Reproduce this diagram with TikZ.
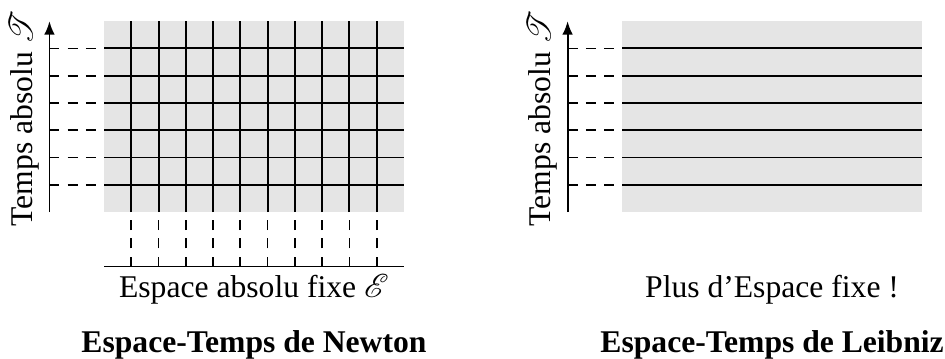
\documentclass[tikz,border=0pt]{standalone}
\usepackage{fontspec}
\setmainfont{Liberation Serif}
\usepackage{mathrsfs}
\usetikzlibrary{arrows.meta}

\tikzset{
	txt/.style={font=\fontsize{16.5}{20}\selectfont},
	title/.style={font=\fontsize{16.5}{20}\selectfont\bfseries},
	gridline/.style={line width=1pt},
	tickline/.style={line width=0.9pt, dash pattern=on 5.2pt off 4.3pt},
	axis/.style={line width=1pt, -{Latex[length=7pt,width=5.5pt]}},
	zone/.style={fill=gray!20, draw=none},
}

\begin{document}
\begin{tikzpicture}[x=0.5cm,y=0.5cm]
	\useasboundingbox (-3.814,-5.354) rectangle (30.84,7.774);

	% Newton
	\fill[zone] (0,0) rectangle (11,7);
	\foreach \y in {1,...,6} {
		\draw[gridline] (0,\y) -- (11,\y);
		\draw[tickline] (-2,\y) -- (0,\y);
	}
	\foreach \x in {1,...,10} {
		\draw[gridline] (\x,0) -- (\x,7);
		\draw[tickline] (\x,-2) -- (\x,0);
	}
	\coordinate (E0) at (0,-2);
	\coordinate (E1) at (11,-2);
	\draw[gridline] (E0) -- (E1);

	\coordinate (T0) at (-2,0);
	\coordinate (T1) at (-2,7);
	\draw[axis] (T0) -- (T1);

	\node[txt, rotate=90, anchor=base west, inner sep=0pt] (tN) at (-2.63,-0.54) {Temps absolu $\mathscr{T}$};
	\node[txt, anchor=base] (eN) at (5.5,-3.14) {Espace absolu fixe $\mathscr{E}$};
	\node[title, anchor=base] (N) at (5.5,-5.16) {Espace-Temps de Newton};

	% Leibniz
	\fill[zone] (19,0) rectangle (30,7);
	\foreach \y in {1,...,6} {
		\draw[gridline] (19,\y) -- (30,\y);
		\draw[tickline] (17,\y) -- (19,\y);
	}

	\coordinate (S0) at (17,0);
	\coordinate (S1) at (17,7);
	\draw[axis] (S0) -- (S1);

	\node[txt, rotate=90, anchor=base west, inner sep=0pt] (tL) at (16.37,-0.54) {Temps absolu $\mathscr{T}$};
	\node[txt, anchor=base] (eL) at (24.5,-3.14) {Plus d’Espace fixe !};
	\node[title, anchor=base] (L) at (24.5,-5.16) {Espace-Temps de Leibniz};

\end{tikzpicture}
\end{document}
